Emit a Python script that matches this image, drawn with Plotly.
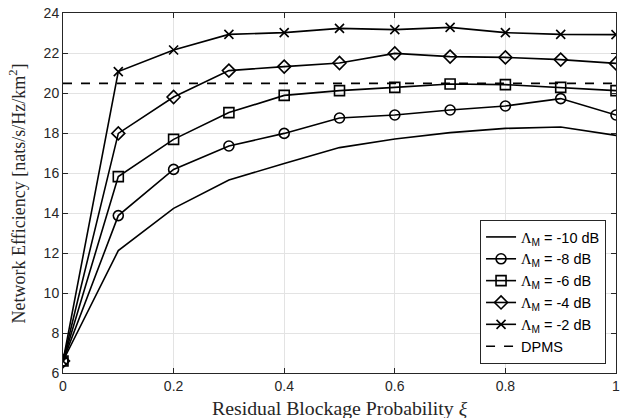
import plotly.graph_objects as go

xi = [0, 0.1, 0.2, 0.3, 0.4, 0.5, 0.6, 0.7, 0.8, 0.9, 1.0]
eff_m10 = [6.6, 12.12, 14.23, 15.65, 16.48, 17.27, 17.7, 18.02, 18.23, 18.3, 17.88]
eff_m8 = [6.6, 13.87, 16.18, 17.35, 17.98, 18.75, 18.9, 19.15, 19.35, 19.72, 18.9]
eff_m6 = [6.6, 15.82, 17.68, 19.02, 19.88, 20.12, 20.28, 20.45, 20.42, 20.28, 20.12]
eff_m4 = [6.6, 17.98, 19.8, 21.12, 21.32, 21.5, 21.98, 21.82, 21.78, 21.67, 21.48]
eff_m2 = [6.6, 21.07, 22.15, 22.93, 23.02, 23.23, 23.17, 23.28, 23.02, 22.93, 22.92]
dpms_value = 20.48
dpms_x = [0, 1]

series = [
    ("-10 dB", eff_m10, None),
    ("-8 dB", eff_m8, "circle-open"),
    ("-6 dB", eff_m6, "square-open"),
    ("-4 dB", eff_m4, "diamond-open"),
    ("-2 dB", eff_m2, "x-thin-open"),
]

SERIF = "Liberation Serif"
SANS = "Liberation Sans, Arial, sans-serif"

fig = go.Figure()
for label, vals, sym in series:
    name = f'<span style="font-family:{SERIF}">Λ</span><sub>M</sub> = {label}'
    if sym is None:
        fig.add_trace(go.Scatter(x=xi, y=vals, mode="lines", name=name,
                                 line=dict(color="black", width=1.6)))
    else:
        fig.add_trace(go.Scatter(x=xi, y=vals, mode="lines+markers", name=name,
                                 line=dict(color="black", width=1.6),
                                 marker=dict(symbol=sym, size=10 if sym != "x-thin-open" else 9,
                                             color="black",
                                             line=dict(color="black", width=1.6))))
fig.add_trace(go.Scatter(x=dpms_x, y=[dpms_value, dpms_value], mode="lines", name="DPMS",
                         line=dict(color="black", width=1.6, dash="dash")))

axis_common = dict(
    showgrid=True, gridcolor="#e3e3e3", gridwidth=1,
    showline=True, linecolor="#262626", linewidth=1, mirror="ticks",
    ticks="inside", ticklen=5, tickcolor="#262626",
    tickfont=dict(family=SANS, size=14, color="#262626"),
    zeroline=False, automargin=False,
)

fig.update_layout(
    width=624, height=418,
    margin=dict(l=63, r=8, t=13, b=45),
    plot_bgcolor="white", paper_bgcolor="white",
    showlegend=True,
    legend=dict(x=0.982, y=0.025, xanchor="right", yanchor="bottom",
                bgcolor="white", bordercolor="#262626", borderwidth=1,
                font=dict(family=SANS, size=14.5, color="black"),
                tracegroupgap=0, itemwidth=30),
    xaxis=dict(range=[0, 1], tickvals=[0, 0.2, 0.4, 0.6, 0.8, 1],
               ticktext=["0", "0.2", "0.4", "0.6", "0.8", "1"],
               **axis_common),
    yaxis=dict(range=[6, 24], tickvals=[6, 8, 10, 12, 14, 16, 18, 20, 22, 24],
               **axis_common),
    annotations=[
        dict(text="Residual Blockage Probability <i>ξ</i>", xref="paper", yref="paper",
             x=0.5, y=-0.062, xanchor="center", yanchor="top", showarrow=False,
             font=dict(family=SERIF, size=19.8, color="#262626")),
        dict(text="Network Efficiency [nats/s/Hz/km<sup>2</sup>]", xref="paper", yref="paper",
             x=-0.058, y=0.5, xanchor="right", yanchor="middle", showarrow=False, textangle=-90,
             font=dict(family=SERIF, size=18, color="#262626")),
    ],
)

fig.write_html("out.html", config={"displayModeBar": False},
               post_script="document.body.style.margin='0';document.body.style.padding='0';")
